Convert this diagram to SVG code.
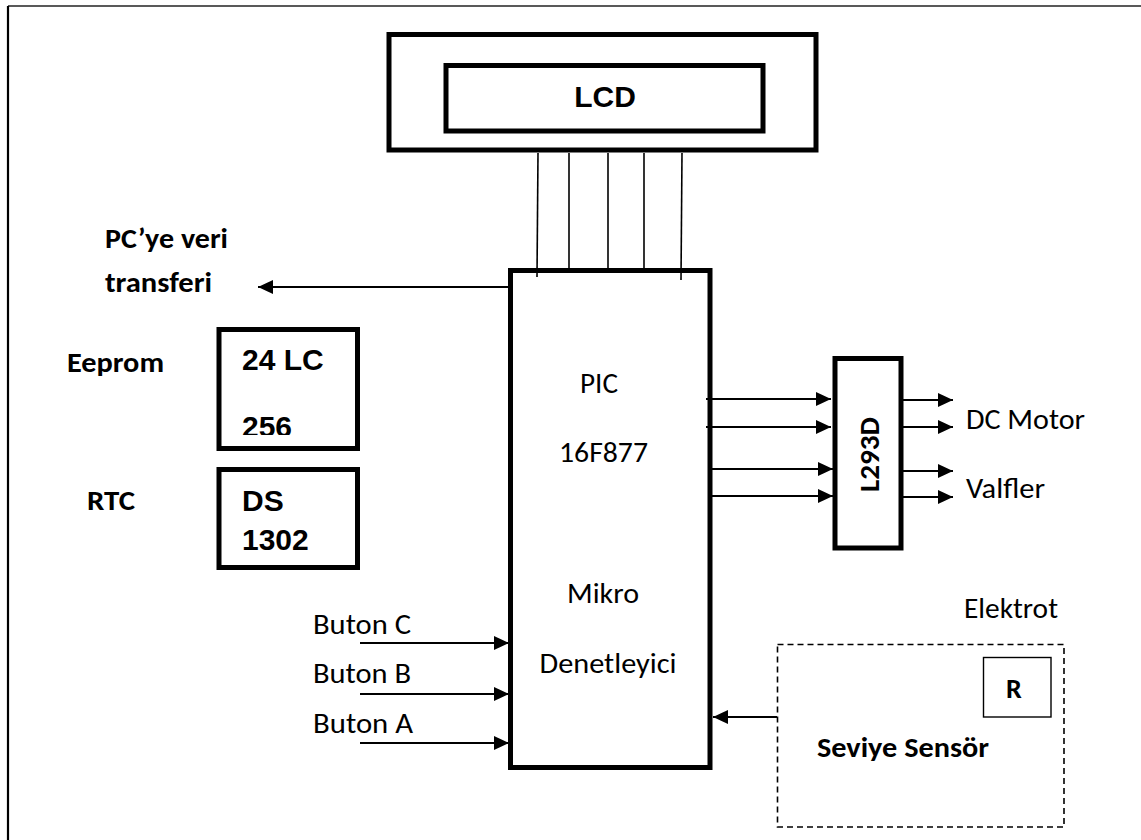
<svg xmlns="http://www.w3.org/2000/svg" width="1141" height="840" viewBox="0 0 1141 840">
<style>
.box{fill:none;stroke:#000;stroke-width:5}
.thin{fill:none;stroke:#000;stroke-width:1.4}
.wire{fill:none;stroke:#000;stroke-width:1.6}
.arr{fill:none;stroke:#000;stroke-width:2}
.ar{font-family:"Liberation Sans",Arial,sans-serif;font-weight:bold;font-size:30px;fill:#000}
.cal{font-family:Carlito,Lato,"Open Sans",sans-serif;font-size:28px;fill:#000}
.calb{font-family:Carlito,Lato,"Open Sans",sans-serif;font-weight:bold;font-size:28px;fill:#000}
</style>
<defs>
<marker id="ah" markerUnits="userSpaceOnUse" markerWidth="16" markerHeight="14" refX="15" refY="7" orient="auto">
<path d="M0,0 L15,7 L0,14 Z" fill="#000"/>
</marker>
<clipPath id="c256"><rect x="230" y="380" width="120" height="55"/></clipPath>
<clipPath id="cElek"><rect x="950" y="580" width="130" height="39"/></clipPath>
<clipPath id="cVal"><rect x="950" y="470" width="130" height="29"/></clipPath>
</defs>

<g id="frame">
<line x1="8" y1="6" x2="1141" y2="6" stroke="#222" stroke-width="1.6"/>
<line x1="8" y1="6" x2="8" y2="840" stroke="#000" stroke-width="2.2"/>
</g>

<g id="lcd">
<rect class="box" x="389" y="34.5" width="427" height="115.5"/>
<rect class="box" x="446" y="65.5" width="317" height="65.5"/>
<text class="ar" x="605" y="107" text-anchor="middle">LCD</text>
</g>

<g id="pic">
<rect class="box" x="510.5" y="270.5" width="199.5" height="497"/>
<text class="cal" x="599" y="393" text-anchor="middle" textLength="38" lengthAdjust="spacingAndGlyphs">PIC</text>
<text class="cal" x="603.5" y="462" text-anchor="middle" textLength="89" lengthAdjust="spacingAndGlyphs">16F877</text>
<text class="cal" x="603" y="603" text-anchor="middle" textLength="72" lengthAdjust="spacingAndGlyphs">Mikro</text>
<text class="cal" x="608" y="673" text-anchor="middle" textLength="137" lengthAdjust="spacingAndGlyphs">Denetleyici</text>
</g>

<g id="pc-label">
<text class="calb" x="105" y="248" textLength="123" lengthAdjust="spacingAndGlyphs">PC’ye veri</text>
<text class="calb" x="105" y="292" textLength="107" lengthAdjust="spacingAndGlyphs">transferi</text>
</g>

<g id="eeprom">
<text class="calb" x="67" y="372" textLength="97" lengthAdjust="spacingAndGlyphs">Eeprom</text>
<rect class="box" x="219" y="329.5" width="138.5" height="119"/>
<text class="ar" x="242" y="370">24 LC</text>
<text class="ar" x="242" y="437" clip-path="url(#c256)">256</text>
</g>

<g id="rtc">
<text class="calb" x="87" y="510" textLength="48" lengthAdjust="spacingAndGlyphs">RTC</text>
<rect class="box" x="219" y="469.5" width="138.5" height="98"/>
<text class="ar" x="242" y="511">DS</text>
<text class="ar" x="242" y="550">1302</text>
</g>

<g id="l293d">
<rect class="box" x="835" y="358.5" width="66" height="189.5"/>
<text class="calb" transform="translate(879,454.5) rotate(-90)" x="0" y="0" text-anchor="middle" textLength="75" lengthAdjust="spacingAndGlyphs">L293D</text>
</g>

<g id="outputs">
<text class="cal" x="966" y="429" textLength="119" lengthAdjust="spacingAndGlyphs">DC Motor</text>
<text class="cal" x="966" y="498" textLength="79" lengthAdjust="spacingAndGlyphs" clip-path="url(#cVal)">Valfler</text>
</g>

<g id="buttons">
<text class="cal" x="313" y="634" textLength="98" lengthAdjust="spacingAndGlyphs">Buton C</text>
<text class="cal" x="313" y="683" textLength="98" lengthAdjust="spacingAndGlyphs">Buton B</text>
<text class="cal" x="313" y="733" textLength="100" lengthAdjust="spacingAndGlyphs">Buton A</text>
</g>

<g id="sensor">
<rect x="777.5" y="644.5" width="286.5" height="182.5" fill="none" stroke="#000" stroke-width="1.6" stroke-dasharray="6,4"/>
<rect class="thin" x="983.5" y="657.5" width="67.5" height="59.5"/>
<text class="calb" x="1014" y="698" text-anchor="middle">R</text>
<text class="calb" x="817" y="757" textLength="172" lengthAdjust="spacingAndGlyphs">Seviye Sensör</text>
<text class="cal" x="964" y="618" textLength="94" lengthAdjust="spacingAndGlyphs" clip-path="url(#cElek)">Elektrot</text>
</g>

<g id="connectors">
<line class="wire" x1="538" y1="153" x2="537" y2="277"/>
<line class="wire" x1="569" y1="153" x2="569" y2="270"/>
<line class="wire" x1="608" y1="153" x2="608" y2="270"/>
<line class="wire" x1="644" y1="153" x2="644" y2="270"/>
<line class="wire" x1="682" y1="153" x2="681" y2="280"/>
<line class="arr" x1="508" y1="287" x2="258" y2="287" marker-end="url(#ah)"/>
<line class="arr" x1="706" y1="399" x2="831" y2="399" marker-end="url(#ah)"/>
<line class="arr" x1="706" y1="427" x2="831" y2="427" marker-end="url(#ah)"/>
<line class="arr" x1="708" y1="469" x2="833" y2="469" marker-end="url(#ah)"/>
<line class="arr" x1="708" y1="496" x2="833" y2="496" marker-end="url(#ah)"/>
<line class="arr" x1="903" y1="400" x2="953" y2="400" marker-end="url(#ah)"/>
<line class="arr" x1="903" y1="427" x2="953" y2="427" marker-end="url(#ah)"/>
<line class="arr" x1="903" y1="471" x2="953" y2="471" marker-end="url(#ah)"/>
<line class="arr" x1="903" y1="497" x2="953" y2="497" marker-end="url(#ah)"/>
<line class="arr" x1="360" y1="643" x2="509" y2="643" marker-end="url(#ah)"/>
<line class="arr" x1="360" y1="694" x2="509" y2="694" marker-end="url(#ah)"/>
<line class="arr" x1="360" y1="743" x2="509" y2="743" marker-end="url(#ah)"/>
<line class="arr" x1="777" y1="717" x2="713" y2="717" marker-end="url(#ah)"/>
</g>
</svg>
